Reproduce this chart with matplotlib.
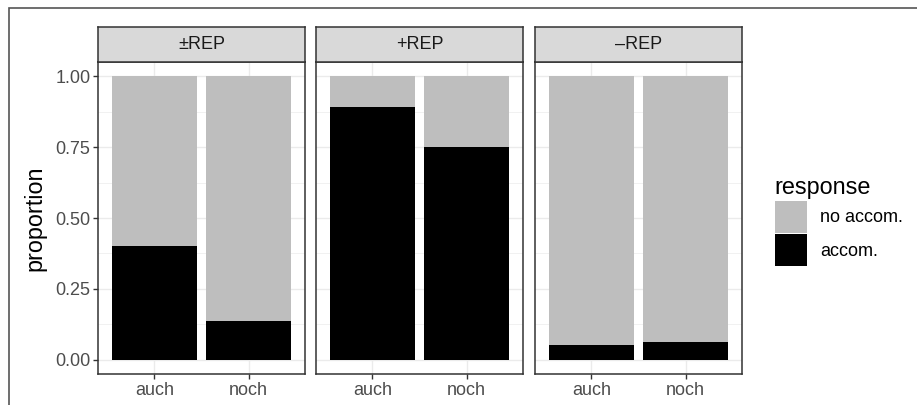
import matplotlib
matplotlib.use("Agg")
import matplotlib.pyplot as plt
from matplotlib.patches import Patch, Rectangle
import numpy as np

plt.rcParams['font.family'] = ['Liberation Sans', 'DejaVu Sans']

panels = ["±REP", "+REP", "\u2013REP"]
categories = ["auch", "noch"]
accom = {
    "±REP": [0.40, 0.138],
    "+REP": [0.89, 0.75],
    "\u2013REP": [0.053, 0.064],
}
legend_labels = ["no accom.", "accom."]
yticks = [0.0, 0.25, 0.50, 0.75, 1.00]
ytick_labels = ["0.00", "0.25", "0.50", "0.75", "1.00"]

W, H = 917, 405
fig = plt.figure(figsize=(W / 100, H / 100), dpi=100)

# outer border
fig.patches.append(Rectangle((9 / W, -0.1), 2.0, (H - 8) / H + 0.1,
                             transform=fig.transFigure, fill=False,
                             edgecolor="#555555", linewidth=1.2, zorder=0))

GRAY = "#BEBEBE"
BLACK = "#000000"
panel_x = [(98, 305), (316, 523), (535, 742)]
ptop, pbot = 62, 374
stop = 27

for i, (name, (x0, x1)) in enumerate(zip(panels, panel_x)):
    ax = fig.add_axes([x0 / W, 1 - pbot / H, (x1 - x0) / W, (pbot - ptop) / H])
    x = np.arange(1, len(categories) + 1)
    a = np.array(accom[name])
    ax.bar(x, a, width=0.9, color=BLACK, zorder=2)
    ax.bar(x, 1 - a, bottom=a, width=0.9, color=GRAY, zorder=2)
    ax.set_xlim(0.4, 2.6)
    ax.set_ylim(-0.05, 1.05)
    ax.set_xticks(x)
    ax.set_xticklabels(categories, fontsize=13, color="#4D4D4D")
    ax.set_yticks(yticks)
    ax.set_yticks([0.125, 0.375, 0.625, 0.875], minor=True)
    ax.grid(True, which="major", color="#EBEBEB", linewidth=1.0, zorder=0)
    ax.grid(True, which="minor", axis="y", color="#EBEBEB", linewidth=0.5, zorder=0)
    ax.set_axisbelow(True)
    ax.tick_params(axis="both", which="major", length=3.5, width=1.0, color="#333333", pad=2)
    ax.tick_params(axis="both", which="minor", length=0)
    if i == 0:
        ax.set_yticklabels(ytick_labels, fontsize=13, color="#4D4D4D")
        ax.set_ylabel("proportion", fontsize=16.8, labelpad=6)
    else:
        ax.tick_params(axis="y", which="major", length=0, labelleft=False)
    for s in ax.spines.values():
        s.set_color("#333333")
        s.set_linewidth(1.1)
    # strip
    sax = fig.add_axes([x0 / W, 1 - ptop / H, (x1 - x0) / W, (ptop - stop) / H])
    sax.set_facecolor("#D9D9D9")
    sax.set_xticks([]); sax.set_yticks([])
    for s in sax.spines.values():
        s.set_color("#333333")
        s.set_linewidth(1.1)
    sax.text(0.5, 0.5, name, ha="center", va="center", fontsize=13,
             color="#1A1A1A", transform=sax.transAxes)

handles = [Patch(facecolor=GRAY, edgecolor="none"), Patch(facecolor=BLACK, edgecolor="none")]
leg = fig.legend(handles, legend_labels, loc="upper left",
                 bbox_to_anchor=(764 / W, 1 - 165 / H), frameon=False,
                 fontsize=13, title="response", title_fontsize=16.8,
                 handlelength=1.8, handleheight=2.35, labelspacing=0.1,
                 handletextpad=0.7, borderpad=0.1)
leg._legend_box.align = "left"

fig.savefig("out.png", dpi=100)
